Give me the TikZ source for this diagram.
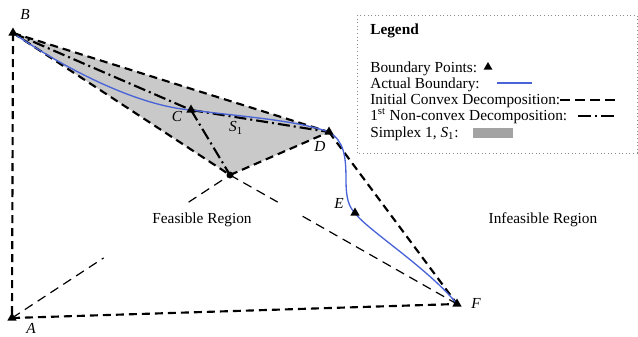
\documentclass[tikz,border=0pt]{standalone}
\usepackage{fontspec}
\setmainfont{Liberation Serif}
\usepackage{tikz}
\usetikzlibrary{shapes.geometric,calc}
\definecolor{dcBoundary}{HTML}{4A64D8}
\definecolor{dcSimplex}{HTML}{C9C9C9}
\definecolor{dcSwatch}{HTML}{A3A3A3}
\definecolor{dcFrame}{HTML}{8C8C8C}
\newcommand{\figfont}{\fontsize{11.5}{13}\selectfont}

\begin{document}
\begin{tikzpicture}[
    x=0.75pt, y=-0.75pt,
    bpt/.style={regular polygon, regular polygon sides=3, fill=black, minimum size=8.2pt, inner sep=0pt},
    vtx/.style={circle, fill=black, minimum size=5.2pt, inner sep=0pt},
    ptlab/.style={font=\figfont\itshape, inner sep=0pt},
    reglab/.style={font=\figfont, inner sep=0pt},
    leglab/.style={font=\figfont, inner sep=0pt, anchor=base west},
    convex/.style={line width=1.6pt, dash pattern=on 6pt off 3.75pt},
    cut/.style={line width=0.9pt, dash pattern=on 7pt off 4.5pt},
    nonconvex/.style={line width=1.6pt, dash pattern=on 9pt off 3pt on 1.5pt off 3pt},
    boundary/.style={draw=dcBoundary, line width=1pt},
  ]
  \useasboundingbox (0,0) rectangle (638,336);
  % boundary points and vertex
  \coordinate (B) at (13,33);
  \coordinate (A) at (12,318);
  \coordinate (C) at (191,110);
  \coordinate (D) at (329,132);
  \coordinate (M) at (230,175);
  \coordinate (E) at (355,213);
  \coordinate (F) at (457,304);
  % simplex S1
  \fill[dcSimplex] (B) -- (D) -- (M) -- cycle;
  % initial convex decomposition
  \draw[convex] (B) -- (A);
  \draw[convex] (A) -- (F);
  \draw[convex] (B) -- (D);
  \draw[convex] (D) -- (F);
  \draw[convex] (B) -- (M);
  \draw[convex] (M) -- (D);
  \draw[cut] (A) -- ($(A)!0.42!(M)$);
  \draw[cut] ($(A)!0.81!(M)$) -- (M);
  \draw[cut] (M) -- ($(M)!0.21!(F)$);
  \draw[cut] ($(M)!0.32!(F)$) -- (F);
  % 1st non-convex decomposition
  \draw[nonconvex] (B) -- (C);
  \draw[nonconvex] (C) -- (D);
  \draw[nonconvex] (C) -- (M);
  % actual boundary
  \draw[boundary] (B) .. controls (70,72) and (140,106) .. (C)
    .. controls (245,117) and (295,120) .. (D)
    .. controls (344,141) and (346,156) .. (346,180)
    .. controls (346,199) and (349,207) .. (E)
    .. controls (366,229) and (428,268) .. (F);
  \node[bpt] (mB) at (B) {};
  \node[bpt] (mA) at (A) {};
  \node[bpt] (mC) at (C) {};
  \node[bpt] (mD) at (D) {};
  \node[bpt] (mE) at (E) {};
  \node[bpt] (mF) at (F) {};
  \node[vtx] (mM) at (M) {};
  \node[ptlab] (lB) at (25,15) {B};
  \node[ptlab] (lA) at (31,328) {A};
  \node[ptlab] (lC) at (177,116) {C};
  \node[ptlab] (lD) at (320,146) {D};
  \node[ptlab] (lE) at (339,203) {E};
  \node[ptlab] (lF) at (476,303) {F};
  \node[ptlab] (lS) at (236,128) {S\textsubscript{\upshape 1}};
  \node[reglab] (feas) at (202,220) {Feasible Region};
  \node[reglab] (infeas) at (543,220) {Infeasible Region};
  % legend
  \draw[dcFrame, dotted, line width=0.7pt] (357,15) rectangle (637,153);
  \node[leglab, font=\figfont\bfseries] (legT) at (370,34) {Legend};
  \node[leglab] (leg1) at (370,72) {Boundary Points:};
  \node[leglab] (leg2) at (370,88) {Actual Boundary:};
  \node[leglab] (leg3) at (370,104) {Initial Convex Decomposition:};
  \node[leglab] (leg4) at (370,120) {1\textsuperscript{st} Non-convex Decomposition:};
  \node[leglab] (leg5) at (370,137) {Simplex 1, \textit{S}\textsubscript{1}:};
  \node[bpt, minimum size=7.5pt] (legPt) at (488,67) {};
  \draw[boundary] (497,83) -- (532,83);
  \draw[line width=1.6pt, dash pattern=on 7.5pt off 3.75pt] (560,100) -- (615,100);
  \draw[line width=1.6pt, dash pattern=on 9.75pt off 3pt on 1.5pt off 3pt] (578,116) -- (615,116);
  \fill[dcSwatch] (473,128) rectangle (513,138);
\end{tikzpicture}
\end{document}
